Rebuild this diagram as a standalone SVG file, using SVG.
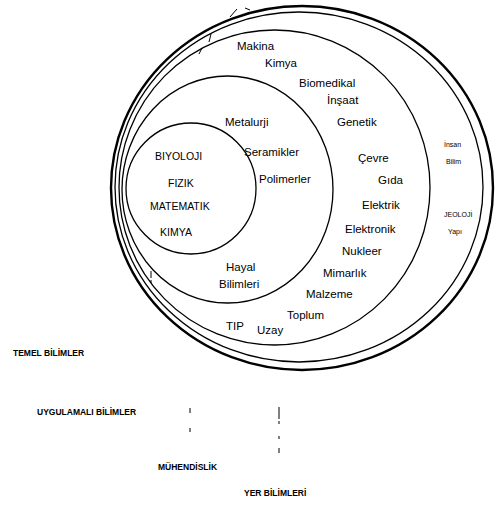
<svg xmlns="http://www.w3.org/2000/svg" width="496" height="507" viewBox="0 0 496 507">
<style>
.ring{fill:none;stroke:#000;stroke-width:1.3}
.thick{fill:none;stroke:#000;stroke-width:2.4}
.t{font-family:"Liberation Sans",Arial,sans-serif;font-size:11.5px;fill:#000}
.u{font-family:"Liberation Sans",Arial,sans-serif;font-size:10.5px;fill:#000}
.s{font-family:"Liberation Sans",Arial,sans-serif;font-size:7px;fill:#000}
.b{font-family:"Liberation Sans",Arial,sans-serif;font-size:8.5px;font-weight:bold;fill:#000}
.mk{fill:none;stroke:#000;stroke-width:1}
</style>
<rect width="496" height="507" fill="#fff"/>
<g id="outer">
<ellipse class="thick" cx="302" cy="188" rx="191" ry="182"/>
<ellipse class="ring" cx="299" cy="187" rx="184" ry="175"/>
<text class="s" x="444" y="147">İnsan</text>
<text class="s" x="446" y="164">Bilim</text>
<text class="s" x="444" y="217">JEOLOJİ</text>
<text class="s" x="448" y="234">Yapı</text>
</g>
<g id="muhendislik">
<ellipse class="ring" cx="274.5" cy="187.5" rx="155.5" ry="157.5"/>
<text class="t" x="237" y="50">Makina</text>
<text class="t" x="265" y="67">Kimya</text>
<text class="t" x="299" y="87">Biomedikal</text>
<text class="t" x="327" y="104">İnşaat</text>
<text class="t" x="337" y="126">Genetik</text>
<text class="t" x="358" y="162">Çevre</text>
<text class="t" x="378" y="184">Gıda</text>
<text class="t" x="362" y="209">Elektrik</text>
<text class="t" x="345" y="233">Elektronik</text>
<text class="t" x="342" y="255">Nukleer</text>
<text class="t" x="323" y="277">Mimarlık</text>
<text class="t" x="306" y="298">Malzeme</text>
<text class="t" x="287" y="319">Toplum</text>
<text class="t" x="226" y="330">TIP</text>
<text class="t" x="257" y="334">Uzay</text>
</g>
<g id="uygulamali">
<ellipse class="ring" cx="227.5" cy="189.5" rx="105.5" ry="113.5"/>
<text class="t" x="225" y="126">Metalurji</text>
<text class="t" x="244" y="156">Seramikler</text>
<text class="t" x="259" y="183">Polimerler</text>
<text class="t" x="226" y="271">Hayal</text>
<text class="t" x="219" y="288">Bilimleri</text>
</g>
<g id="temel">
<ellipse class="ring" cx="191" cy="188.5" rx="65" ry="65.5"/>
<text class="u" x="155" y="160">BIYOLOJI</text>
<text class="u" x="168" y="187">FIZIK</text>
<text class="u" x="150" y="210">MATEMATIK</text>
<text class="u" x="160" y="236">KIMYA</text>
</g>
<g id="labels">
<text class="b" x="13" y="356">TEMEL BİLİMLER</text>
<text class="b" x="37" y="415">UYGULAMALI BİLİMLER</text>
<text class="b" x="158" y="470">MÜHENDİSLİK</text>
<text class="b" x="244" y="496">YER BİLİMLERİ</text>
</g>
<g id="connectors">
<path class="mk" d="M230 17 L237 9 M245 8 L250 10 M211 34 L209 42 M202 48 L199 54"/>
<path class="mk" d="M151 271 L151 278 M151 280 L151 283"/>
<path class="mk" d="M190 408 L190 413 M190 428 L190 432"/>
<path class="mk" stroke-width="1.3" d="M279 407 L279 419 M279 421 L279 424 M279 436 L279 439 M279 448 L279 453"/>
</g>
</svg>
